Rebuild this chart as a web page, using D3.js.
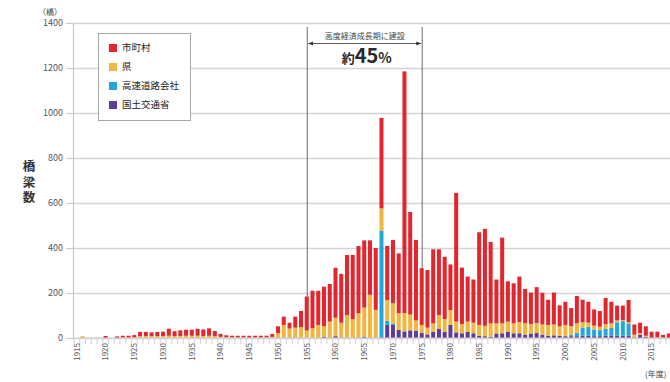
<!DOCTYPE html>
<html>
<head>
<meta charset="utf-8">
<script src="https://cdn.jsdelivr.net/npm/d3@7"></script>
<style>
  body { margin: 0; background: #fff; }
  svg { display: block; }
  text { font-family: "Noto Sans CJK JP", "Noto Sans", sans-serif; }
</style>
</head>
<body>
<svg id="chart" width="670" height="382"></svg>
<script>
// 年度別 建設橋梁数（管理者別）
const years = d3.range(1915, 2019);

// 市町村
const municipal = [
  0,0,0,0,0, 5,0,7,8,8, 10,19,19,17,19, 19,31,22,25,27,
  27,31,29,33,23, 13,9,8,8,8, 9,8,8,8,13, 30,37,26,49,72,
  150,167,152,176,167, 222,217,267,286,299, 299,242,275,402,240, 282,266,1074,456,358,
  252,256,329,292,277, 203,572,251,200,192, 412,431,362,195,381, 179,178,202,153,140,
  159,141,112,142,93, 103,80,122,100,93, 72,70,116,96,66, 64,99,45,46,42,
  28,26,12,20
];
// 県
const prefecture = [
  0,8,0,0,0, 0,0,0,2,2, 3,8,8,8,8, 9,10,8,9,10,
  10,10,9,10,8, 5,3,2,2,2, 1,2,2,2,5, 22,58,42,46,48,
  34,43,58,46,73, 82,68,102,83,110, 129,192,125,100,93, 90,74,80,70,45,
  36,30,37,62,57, 66,48,41,45,47, 48,46,60,45,44, 45,44,50,50,42,
  45,45,48,48,42, 50,40,42,25,18, 17,15,22,20,8, 5,5,12,7,5,
  0,2,0,0
];
// 高速道路会社
const expressway = [
  0,0,0,0,0, 0,0,0,0,0, 0,0,0,0,0, 0,0,0,0,0,
  0,0,0,0,0, 0,0,0,0,0, 0,0,0,0,0, 0,0,0,0,0,
  0,0,0,0,0, 0,0,0,0,0, 0,0,0,473,18, 6,0,3,0,0,
  0,0,0,0,0, 0,0,0,0,0, 0,0,0,0,0, 0,0,0,0,0,
  0,0,0,0,0, 0,5,15,35,40, 30,27,30,35,60, 65,55,0,0,0,
  0,0,0,0
];
// 国土交通省
const ministry = [
  0,0,0,0,0, 4,0,0,0,0, 0,0,0,0,0, 0,0,0,0,0,
  0,0,0,0,0, 0,0,0,0,0, 0,0,0,0,0, 0,0,0,0,0,
  0,0,0,6,0, 8,0,0,0,0, 6,0,0,3,58, 58,36,28,34,33,
  22,16,28,40,27, 58,25,21,28,21, 10,8,5,20,21, 28,21,21,15,20,
  22,15,10,12,10, 8,8,8,10,10, 8,8,10,10,10, 10,10,3,15,5,
  0,0,2,0
];

const seriesNames = ["市町村", "県", "高速道路会社", "国土交通省"];
const seriesColors = ["#e3262d", "#f2b53f", "#22a6dc", "#5d3b96"];
const yTicks = [0, 200, 400, 600, 800, 1000, 1200, 1400];
const xLabelYears = d3.range(1915, 2016, 5);
const periodStart = 1955, periodEnd = 1975;
const periodLabel = "高度経済成長期に建設";

const rows = years.map((yr, i) => ({
  year: yr,
  "国土交通省": ministry[i],
  "高速道路会社": expressway[i],
  "県": prefecture[i],
  "市町村": municipal[i]
}));
const stackKeys = ["国土交通省", "高速道路会社", "県", "市町村"];
const stacked = d3.stack().keys(stackKeys)(rows);
const colorOf = d3.scaleOrdinal().domain(seriesNames).range(seriesColors);

const svg = d3.select("#chart");
const plotLeft = 73, plotRight = 671, plotTop = 23, plotBottom = 338;

const x = d3.scaleBand().domain(years).range([74, 671.7]).paddingInner(0.3).paddingOuter(0.15);
const y = d3.scaleLinear().domain([0, 1400]).range([plotBottom, plotTop]);

// horizontal gridlines
svg.append("g")
  .attr("transform", `translate(${plotLeft},0)`)
  .call(d3.axisLeft(y).tickValues(yTicks).tickSize(-(plotRight - plotLeft)).tickFormat(""))
  .call(g => g.select(".domain").remove())
  .call(g => g.selectAll("line").attr("stroke", "#d4d4d4").attr("stroke-width", 1.3));

// y axis with outer tick marks and labels
svg.append("g")
  .attr("transform", `translate(${plotLeft},0)`)
  .call(d3.axisLeft(y).tickValues(yTicks).tickSize(7).tickPadding(3).tickFormat(d3.format("d")))
  .call(g => g.select(".domain").attr("stroke", "#c8c8c8").attr("stroke-width", 1.2))
  .call(g => g.selectAll("line").attr("stroke", "#c8c8c8"))
  .call(g => g.selectAll("text").attr("fill", "#555").attr("font-size", 9));

// period bracket lines
const xc = yr => x(yr) + x.bandwidth() / 2;
const px1 = xc(periodStart) + 0.5, px2 = xc(periodEnd) + 0.5;
svg.append("g").selectAll("line")
  .data([px1, px2])
  .join("line")
  .attr("x1", d => d).attr("x2", d => d)
  .attr("y1", 27).attr("y2", plotBottom)
  .attr("stroke", "#6a6a6a").attr("stroke-width", 1);

// stacked bars
svg.append("g").selectAll("g")
  .data(stacked)
  .join("g")
  .attr("fill", d => colorOf(d.key))
  .selectAll("rect")
  .data(d => d.filter(s => s[1] > s[0]))
  .join("rect")
  .attr("x", d => x(d.data.year))
  .attr("width", x.bandwidth())
  .attr("y", d => y(d[1]))
  .attr("height", d => y(d[0]) - y(d[1]));

// x axis: minor ticks at every year boundary
svg.append("g").selectAll("line")
  .data(years)
  .join("line")
  .attr("x1", d => x(d) - x.step() * x.paddingInner() / 2)
  .attr("x2", d => x(d) - x.step() * x.paddingInner() / 2)
  .attr("y1", plotBottom).attr("y2", plotBottom + 6)
  .attr("stroke", "#d6d0de").attr("stroke-width", 1);

svg.append("line")
  .attr("x1", plotLeft).attr("x2", plotRight)
  .attr("y1", plotBottom).attr("y2", plotBottom)
  .attr("stroke", "#cfcfcf").attr("stroke-width", 1.2);

const xAxis = svg.append("g")
  .attr("transform", `translate(0,${plotBottom})`)
  .call(d3.axisBottom(x).tickValues(xLabelYears).tickSize(0))
  .call(g => g.select(".domain").remove());
xAxis.selectAll("text")
  .attr("fill", "#555").attr("font-size", 8)
  .attr("text-anchor", "end")
  .attr("transform", "rotate(-90)")
  .attr("x", -5).attr("y", 0).attr("dy", "0.35em");

// arrow marker
const defs = svg.append("defs");
["arrEnd", "arrStart"].forEach((id, k) => {
  defs.append("marker")
    .attr("id", id)
    .attr("viewBox", "0 0 10 10").attr("refX", 10).attr("refY", 5)
    .attr("markerWidth", 6).attr("markerHeight", 6)
    .attr("orient", k === 0 ? "auto" : "auto-start-reverse")
    .append("path").attr("d", "M0,1 L10,5 L0,9 Z").attr("fill", "#333");
});
svg.append("line")
  .attr("x1", px1 + 1).attr("x2", px2 - 1)
  .attr("y1", 43.5).attr("y2", 43.5)
  .attr("stroke", "#333").attr("stroke-width", 0.8)
  .attr("marker-end", "url(#arrEnd)")
  .attr("marker-start", "url(#arrStart)");

svg.append("text")
  .attr("x", (px1 + px2) / 2).attr("y", 38.5)
  .attr("text-anchor", "middle").attr("font-size", 8).attr("fill", "#444")
  .text(periodLabel);

const pct = svg.append("text")
  .attr("x", (px1 + px2) / 2 + 2).attr("y", 63)
  .attr("text-anchor", "middle").attr("fill", "#2a2a2a").attr("font-weight", "bold");
pct.append("tspan").attr("font-size", 13).text("約");
pct.append("tspan").attr("font-size", 20).text("45");
pct.append("tspan").attr("font-size", 14).text("%");

// legend
const legend = svg.append("g");
legend.append("rect")
  .attr("x", 98.5).attr("y", 33.5).attr("width", 92).attr("height", 87)
  .attr("fill", "#fff").attr("stroke", "#a8a8a8").attr("stroke-width", 1);
const items = legend.selectAll("g")
  .data(seriesNames)
  .join("g")
  .attr("transform", (d, i) => `translate(109,${48 + i * 19})`);
items.append("rect")
  .attr("x", 0).attr("y", -4).attr("width", 8).attr("height", 8)
  .attr("fill", d => colorOf(d));
items.append("text")
  .attr("x", 13).attr("y", 0).attr("dy", "0.35em")
  .attr("font-size", 9.5).attr("fill", "#222")
  .text(d => d);

// axis titles
svg.append("text")
  .attr("x", 50).attr("y", 15).attr("text-anchor", "middle")
  .attr("font-size", 8).attr("fill", "#444")
  .text("（橋）");
svg.append("text")
  .attr("x", 29).attr("y", 160)
  .attr("font-size", 12.5).attr("font-weight", "bold").attr("fill", "#333")
  .style("writing-mode", "vertical-rl")
  .attr("letter-spacing", 3)
  .text("橋梁数");
svg.append("text")
  .attr("x", 645).attr("y", 377)
  .attr("font-size", 8).attr("fill", "#444")
  .text("(年度)");
</script>
</body>
</html>
